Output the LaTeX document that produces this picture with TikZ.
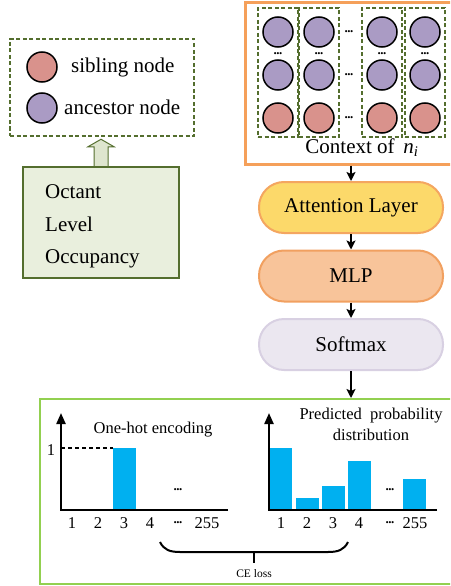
\documentclass[tikz,border=0pt]{standalone}
\usepackage{fontspec}
\setmainfont{Liberation Serif}
\usetikzlibrary{arrows.meta,calc}

\definecolor{ancestor}{RGB}{170,155,196}
\definecolor{sibling}{RGB}{217,146,140}
\definecolor{olive}{RGB}{84,110,46}
\definecolor{infofill}{RGB}{233,239,221}
\definecolor{hollowfill}{RGB}{222,229,206}
\definecolor{ctxorange}{RGB}{245,160,90}
\definecolor{attfill}{RGB}{252,217,106}
\definecolor{attdraw}{RGB}{244,166,96}
\definecolor{mlpfill}{RGB}{248,196,154}
\definecolor{mlpdraw}{RGB}{241,160,96}
\definecolor{smfill}{RGB}{235,231,240}
\definecolor{smdraw}{RGB}{216,208,226}
\definecolor{lossgreen}{RGB}{146,208,80}
\definecolor{barblue}{RGB}{0,176,240}

\tikzset{
  mainfont/.style={font=\fontsize{21}{24}\selectfont},
  chartfont/.style={font=\fontsize{16.5}{19}\selectfont},
  anc/.style={circle, draw, line width=1.5pt, fill=ancestor, minimum size=30pt, inner sep=0pt},
  sib/.style={circle, draw, line width=1.5pt, fill=sibling, minimum size=30pt, inner sep=0pt},
  dashbox/.style={draw=olive, dash pattern=on 4pt off 2.5pt, line width=2.4pt},
  colbox/.style={dashbox, minimum width=40pt, minimum height=129pt, inner sep=0pt},
  dotsnode/.style={font=\fontsize{13}{13}\selectfont\bfseries, inner sep=0pt},
  pill/.style={rounded corners=25pt, minimum width=184pt, minimum height=51pt,
    line width=2pt, mainfont},
  flow/.style={-{Stealth[length=9pt,width=9pt,inset=2pt]}, line width=1.6pt},
  axisline/.style={line width=2.2pt, line join=miter, -{Triangle[width=9pt,length=11pt]}},
  bar/.style={fill=barblue},
  lbl/.style={chartfont, anchor=base, inner sep=0pt},
}
% three close bold dots
\newcommand{\tridots}{.\kern-0.6pt.\kern-0.6pt.}

\begin{document}
\begin{tikzpicture}[x=1pt, y=-1pt]
\useasboundingbox (0,0) rectangle (450,586);
\clip (0,0) rectangle (450,586);

% ---------- legend ----------
\node[dashbox, minimum width=184pt, minimum height=97pt] (legend) at (102,87.5) {};
\node[sib] (legsib) at (42,67) {};
\node[anc] (leganc) at (42,108) {};
\node[mainfont, anchor=base west, inner sep=0pt] (legsibtxt) at (71,73) {sibling node};
\node[mainfont, anchor=base west, inner sep=0pt] (legantxt) at (64,114) {ancestor node};

% ---------- node features ----------
\node[draw=olive, fill=infofill, line width=2.5pt, minimum width=156pt,
      minimum height=111pt] (info) at (101,222.5) {};
\node[mainfont, anchor=base west, inner sep=0pt] (oct) at (45,198) {Octant};
\node[mainfont, anchor=base west, inner sep=0pt] (lev) at (45,231) {Level};
\node[mainfont, anchor=base west, inner sep=0pt] (occ) at (45,263) {Occupancy};

% hollow arrow from the feature box up to the legend
\draw[draw=olive, fill=hollowfill, line width=1pt, line join=miter]
  ($(info.north)+(-7,0)$) -- ++(0,-19) -- ++(-6,0) -- ++(13,-7.5)
  -- ++(13,7.5) -- ++(-6,0) -- ++(0,19);

% ---------- context of n_i ----------
\node[draw=ctxorange, line width=3pt, minimum width=216pt, minimum height=161pt] (ctx) at (353,83.5) {};
\foreach \x [count=\i] in {278,319,382,425} {
  \node[colbox] (col\i) at (\x,72.5) {};
  \node[anc] (top\i) at (\x,32) {};
  \node[anc] (mid\i) at (\x,75) {};
  \node[sib] (bot\i) at (\x,118) {};
  \node[dotsnode] (vd\i) at (\x,54) {\tridots};
}
\foreach \y [count=\i] in {32,75,118} {
  \node[dotsnode] (hd\i) at (349,\y) {\tridots};
}
\node[mainfont, anchor=base, inner sep=0pt] (ctxlabel) at (362,153)
  {Context of\, \textit{n}\textsubscript{\textit{i}}};

% ---------- network stages ----------
\node[pill, fill=attfill, draw=attdraw] (att) at (351,207.5) {Attention Layer};
\node[pill, fill=mlpfill, draw=mlpdraw] (mlp) at (351,276) {MLP};
\node[pill, fill=smfill, draw=smdraw] (sm) at (351,344.5) {Softmax};

\draw[flow] (att.north |- ctx.south) -- (att.north);
\draw[flow] (att) -- (mlp);
\draw[flow] (mlp) -- (sm);

% ---------- loss panel ----------
\node[draw=lossgreen, line width=2pt, minimum width=420pt, minimum height=185pt] (panel) at (250,491.5) {};
\draw[flow] (sm.south) -- (sm.south |- panel.north);

% one-hot chart
\fill[bar] (113,510) rectangle (136,448);
\draw[line width=1.6pt, dash pattern=on 4pt off 3pt] (61,448) -- (113,448);
\draw[axisline] (228,510) -- (61,510) -- (61,413);
\node[lbl] (onehot) at (153,433) {One-hot encoding};
\node[lbl] (one) at (51,455) {1};
\node[dotsnode] (ld1) at (178,490) {\tridots};
\foreach \x/\t in {72/1, 98/2, 124/3, 150/4, 207/255} {
  \node[lbl] (lx\t) at (\x,528) {\t};
}
\node[dotsnode] (ld2) at (178,523) {\tridots};

% predicted chart
\fill[bar] (269,510) rectangle (292,448);
\fill[bar] (296,510) rectangle (319,498);
\fill[bar] (322,510) rectangle (345,486);
\fill[bar] (348,510) rectangle (371,461);
\fill[bar] (403,510) rectangle (426,479);
\draw[axisline] (437,510) -- (269,510) -- (269,413);
\node[lbl] (pred1) at (371,419) {Predicted\ \ probability};
\node[lbl] (pred2) at (371,440) {distribution};
\node[dotsnode] (rd1) at (390,490) {\tridots};
\foreach \x/\t in {281/1, 307/2, 333/3, 359/4, 415/255} {
  \node[lbl] (rx\t) at (\x,528) {\t};
}
\node[dotsnode] (rd2) at (390,523) {\tridots};

% brace joining the two charts
\coordinate (braceL) at (160,542);
\coordinate (braceR) at (348,542);
\coordinate (braceM) at (254,552);
\draw[line width=2pt]
  (braceL) .. controls (164,550) and (170,552) .. (180,552)
  -- (328,552) .. controls (338,552) and (344,550) .. (braceR);
\draw[line width=2pt] (braceM) -- ++(0,11);
\node[font=\fontsize{11.5}{13}\selectfont, inner sep=0pt] (celoss) at (254,574) {CE loss};

\end{tikzpicture}
\end{document}
